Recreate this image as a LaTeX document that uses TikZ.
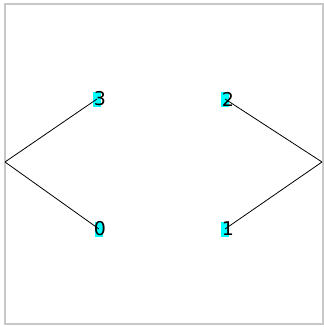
\documentclass[tikz,border=0pt]{standalone}
\usepackage{fontspec}
\setmainfont{DejaVu Sans}
\usepackage{tikz}
\usetikzlibrary{positioning}
\definecolor{nodeCyan}{RGB}{0,255,255}
\definecolor{frameGray}{RGB}{200,200,200}

\begin{document}
\begin{tikzpicture}[
  x=1pt, y=-1pt,
  frame/.style ={draw=frameGray, line width=2pt},
  vbox/.style  ={fill=nodeCyan, minimum width=8pt, minimum height=15pt, inner sep=0pt},
  vlbl/.style  ={font=\fontsize{19}{19}\selectfont, inner sep=0pt, text=black},
  edge/.style  ={draw=black, line width=0.8pt},
]
  \useasboundingbox (0,0) rectangle (324,327);
  \draw[frame] (4.5,4) rectangle (322.5,323.5);

  % outer corner points
  \coordinate (west) at (5,162);
  \coordinate (east) at (322,162);

  % cyan markers under the labels
  \node[vbox] (b3) at ( 97, 99) {};
  \node[vbox] (b2) at (225, 99) {};
  \node[vbox] (b0) at ( 99,229) {};
  \node[vbox] (b1) at (225,229) {};

  % edges run to the label centres
  \draw[edge] (west) -- (b3.center);
  \draw[edge] (west) -- (b0.center);
  \draw[edge] (east) -- (b2.center);
  \draw[edge] (east) -- (b1.center);

  \node[vlbl] (v3) at (100, 99) {3};
  \node[vlbl] (v2) at (228, 99) {2};
  \node[vlbl] (v0) at (100,229) {0};
  \node[vlbl] (v1) at (228,229) {1};
\end{tikzpicture}
\end{document}
